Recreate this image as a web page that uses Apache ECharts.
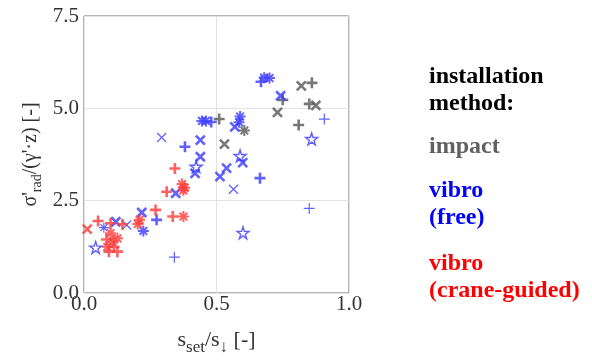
<!DOCTYPE html>
<html>
<head>
<meta charset="utf-8">
<script src="https://cdn.jsdelivr.net/npm/echarts@6/dist/echarts.min.js"></script>
<style>
  html, body { margin: 0; padding: 0; background: #fff; }
  #main { width: 592px; height: 363px; }
</style>
</head>
<body>
<div id="main"></div>
<script>
// x, y, marker kind
// p = plus, x = cross, a = asterisk, s = star, tp/tx/ta = thin versions
const impact = [
  [0.51, 4.71, 'p'], [0.605, 4.40, 'a'], [0.53, 4.03, 'x'], [0.73, 4.89, 'x'],
  [0.75, 5.23, 'p'], [0.82, 5.61, 'x'], [0.86, 5.69, 'p'], [0.85, 5.12, 'p'],
  [0.875, 5.08, 'x'], [0.81, 4.55, 'p']
];
const vibroFree = [
  [0.668, 5.72, 'p'], [0.68, 5.83, 'a'], [0.70, 5.82, 'a'], [0.742, 5.34, 'x'],
  [0.907, 4.71, 'tp'], [0.859, 4.17, 's'], [0.445, 4.66, 'a'], [0.46, 4.66, 'a'],
  [0.48, 4.63, 'p'], [0.589, 4.78, 'a'], [0.585, 4.62, 'a'], [0.569, 4.50, 'x'],
  [0.439, 4.14, 'x'], [0.381, 3.96, 'p'], [0.293, 4.21, 'tx'], [0.439, 3.69, 'x'],
  [0.589, 3.71, 's'], [0.423, 3.42, 's'], [0.419, 3.24, 'x'], [0.538, 3.38, 'x'],
  [0.513, 3.15, 'x'], [0.599, 3.53, 'x'], [0.664, 3.11, 'p'], [0.564, 2.81, 'tx'],
  [0.85, 2.29, 'tp'], [0.60, 1.63, 's'], [0.341, 0.97, 'tp'], [0.346, 2.70, 'x'],
  [0.218, 2.18, 'x'], [0.274, 1.98, 'p'], [0.224, 1.68, 'a'], [0.12, 1.93, 'x'],
  [0.161, 1.84, 'tx'], [0.075, 1.77, 'ta'], [0.044, 1.23, 's']
];
const vibroCrane = [
  [0.343, 3.37, 'p'], [0.37, 2.95, 'a'], [0.38, 2.85, 'a'], [0.375, 2.78, 'a'],
  [0.312, 2.74, 'p'], [0.27, 2.25, 'p'], [0.335, 2.07, 'p'], [0.375, 2.07, 'a'],
  [0.203, 1.87, 'a'], [0.21, 1.98, 'a'], [0.012, 1.73, 'x'], [0.053, 1.95, 'p'],
  [0.10, 1.89, 'p'], [0.10, 1.62, 'a'], [0.107, 1.39, 'a'], [0.088, 1.25, 'a'],
  [0.113, 1.25, 'p'], [0.094, 1.12, 'p'], [0.126, 1.48, 'a'], [0.126, 1.12, 'p'],
  [0.085, 1.45, 'p'], [0.145, 1.86, 'p']
];
const xTicks = [0, 0.5, 1.0];
const yTicks = [0, 2.5, 5.0, 7.5];

const shapes = {
  p:  { path: 'path://M10,0L10,20M0,10L20,10', size: 11, w: 2.6 },
  x:  { path: 'path://M0,0L20,20M20,0L0,20', size: 9, w: 2.6 },
  a:  { path: 'path://M10,0L10,20M0,10L20,10M3,3L17,17M17,3L3,17', size: 11, w: 2 },
  s:  { path: 'path://M10,0L12.25,6.91L19.51,6.91L13.63,11.18L15.88,18.09L10,13.82L4.12,18.09L6.37,11.18L0.49,6.91L7.75,6.91Z', size: 12, w: 1.4 },
  tp: { path: 'path://M10,0L10,20M0,10L20,10', size: 11, w: 1.2 },
  tx: { path: 'path://M0,0L20,20M20,0L0,20', size: 9, w: 1.2 },
  ta: { path: 'path://M10,0L10,20M0,10L20,10M3,3L17,17M17,3L3,17', size: 10, w: 1.2 }
};

function toSeries(name, rows, color) {
  return {
    name: name,
    type: 'scatter',
    data: rows.map(r => {
      const s = shapes[r[2]];
      return {
        value: [r[0], r[1]],
        symbol: s.path,
        symbolSize: s.size,
        itemStyle: { color: 'rgba(0,0,0,0)', borderColor: color, borderWidth: s.w }
      };
    })
  };
}

const serif = 'Liberation Serif';
const chart = echarts.init(document.getElementById('main'));

function legendTitle(top, text, color) {
  return {
    text: text, left: 429, top: top, padding: 0,
    textStyle: { fontFamily: serif, fontWeight: 'bold', fontSize: 24, color: color, lineHeight: 27 }
  };
}

const option = {
  animation: false,
  title: [
    legendTitle(63, 'installation\nmethod:', '#000'),
    legendTitle(133, 'impact', '#616161'),
    legendTitle(177, 'vibro\n(free)', '#0000ff'),
    legendTitle(250, 'vibro\n(crane-guided)', '#ff0000')
  ],
  grid: {
    left: 84, right: 243, top: 16, bottom: 70,
    show: true, borderColor: '#6f6f6f', borderWidth: 1
  },
  xAxis: {
    type: 'value', min: 0, max: 1, interval: 0.5,
    axisLine: { show: false },
    axisTick: { show: false },
    splitLine: { lineStyle: { color: '#e2e2e2' } },
    axisLabel: {
      fontFamily: serif, fontSize: 21, color: '#333', margin: 1,
      formatter: v => xTicks.includes(v) ? v.toFixed(1) : ''
    },
    name: '{m|s}{sub|set}{m|/s}{sub|↓}{m| [-]}',
    nameLocation: 'middle', nameGap: 36,
    nameTextStyle: {
      rich: {
        m: { fontFamily: serif, fontSize: 22, color: '#333', lineHeight: 22 },
        sub: { fontFamily: serif, fontSize: 17, color: '#333', padding: [15, 0, 0, 0], lineHeight: 22 }
      }
    }
  },
  yAxis: {
    type: 'value', min: 0, max: 7.5, interval: 2.5,
    axisLine: { show: false },
    axisTick: { show: false },
    splitLine: { lineStyle: { color: '#e2e2e2' } },
    axisLabel: {
      fontFamily: serif, fontSize: 21, color: '#333', margin: 5,
      formatter: v => yTicks.includes(v) ? v.toFixed(1) : ''
    },
    name: "{m|σ'}{sub|rad}{m|/(γ'·z) [-]}",
    nameLocation: 'middle', nameGap: 42,
    nameTextStyle: {
      rich: {
        m: { fontFamily: serif, fontSize: 20, color: '#333', lineHeight: 22 },
        sub: { fontFamily: serif, fontSize: 14, color: '#333', padding: [13, 0, 0, 0], lineHeight: 22 }
      }
    }
  },
  series: [
    toSeries('impact', impact, '#555555'),
    toSeries('vibro (free)', vibroFree, '#3a3aff'),
    toSeries('vibro (crane-guided)', vibroCrane, '#ff3a3a')
  ]
};

chart.setOption(option);
</script>
</body>
</html>
